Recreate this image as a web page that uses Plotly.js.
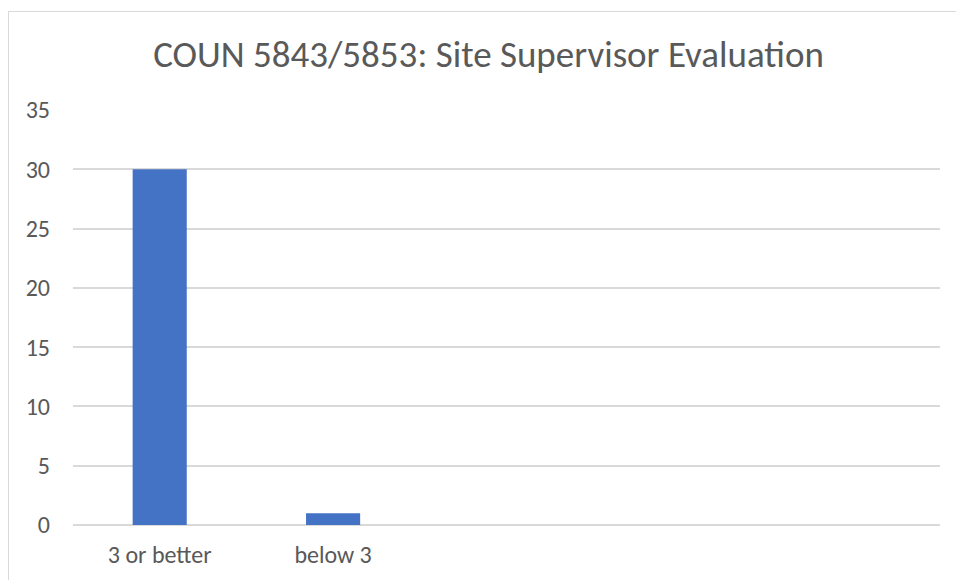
<!DOCTYPE html>
<html>
<head>
<meta charset="utf-8">
<script src="https://cdn.plot.ly/plotly-3.0.1.min.js"></script>
<style>
  html, body { margin: 0; padding: 0; background: #ffffff; overflow: hidden; }
  #frame { position: absolute; left: 8px; top: 11px; width: 1000px; height: 700px; border: 1px solid #d9d9d9; box-sizing: border-box; }
  #chart { position: absolute; left: 0; top: 0; width: 956px; height: 580px; }
</style>
</head>
<body>
<div id="frame"></div>
<div id="chart"></div>
<script>
const categories = ["3 or better", "below 3", " ", "  ", "   "];
const values = [30, 1, null, null, null];
const yTicks = [0, 5, 10, 15, 20, 25, 30, 35];
const chartTitle = "COUN 5843/5853: Site Supervisor Evaluation";

const fontFam = "Calibri, Carlito, Lato, 'Open Sans', sans-serif";

const data = [{
  type: "bar",
  x: categories,
  y: values,
  marker: { color: "#4472C4" },
  hoverinfo: "x+y"
}];

const layout = {
  width: 956,
  height: 580,
  paper_bgcolor: "rgba(0,0,0,0)",
  plot_bgcolor: "rgba(0,0,0,0)",
  margin: { l: 73, r: 16, t: 110, b: 55 },
  bargap: 0.688,
  showlegend: false,
  title: {
    text: chartTitle,
    x: 0.511, xanchor: "center",
    y: 0.907, yanchor: "middle",
    font: { family: fontFam, size: 37, color: "#595959" }
  },
  xaxis: {
    type: "category",
    showgrid: false,
    showline: false,
    zeroline: false,
    ticks: "",
    tickfont: { family: fontFam, size: 24, color: "#595959" },
    ticklabelstandoff: 13
  },
  yaxis: {
    range: [0, 35],
    tickvals: yTicks,
    ticktext: yTicks.map(String),
    showgrid: true,
    gridcolor: "#d9d9d9",
    gridwidth: 2,
    zeroline: true,
    zerolinecolor: "#d9d9d9",
    zerolinewidth: 2,
    showline: false,
    ticks: "",
    tickfont: { family: fontFam, size: 24, color: "#595959" },
    ticklabelstandoff: 22
  }
};

Plotly.newPlot("chart", data, layout, { displayModeBar: false, staticPlot: true });
</script>
</body>
</html>
